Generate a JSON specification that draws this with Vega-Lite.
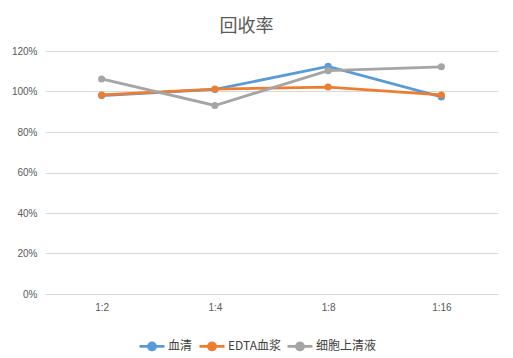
{
  "$schema": "https://vega.github.io/schema/vega-lite/v6.json",
  "width": 453,
  "height": 243,
  "autosize": {"type": "none"},
  "padding": {"left": 45, "top": 51, "right": 15, "bottom": 64},
  "background": "white",
  "title": {"text": "回收率", "fontSize": 18, "font": "Noto Sans CJK SC", "fontWeight": "normal", "color": "#595959", "offset": 10, "dx": -25},
  "data": {"values": [
    {"idx": 1, "dilution": "1:2", "series": "血清", "value": 0.98},
    {"idx": 2, "dilution": "1:4", "series": "血清", "value": 1.01},
    {"idx": 3, "dilution": "1:8", "series": "血清", "value": 1.124},
    {"idx": 4, "dilution": "1:16", "series": "血清", "value": 0.973},
    {"idx": 1, "dilution": "1:2", "series": "EDTA血浆", "value": 0.983},
    {"idx": 2, "dilution": "1:4", "series": "EDTA血浆", "value": 1.012},
    {"idx": 3, "dilution": "1:8", "series": "EDTA血浆", "value": 1.022},
    {"idx": 4, "dilution": "1:16", "series": "EDTA血浆", "value": 0.983},
    {"idx": 1, "dilution": "1:2", "series": "细胞上清液", "value": 1.062},
    {"idx": 2, "dilution": "1:4", "series": "细胞上清液", "value": 0.931},
    {"idx": 3, "dilution": "1:8", "series": "细胞上清液", "value": 1.103},
    {"idx": 4, "dilution": "1:16", "series": "细胞上清液", "value": 1.122}
  ]},
  "mark": {"type": "line", "strokeWidth": 2.8, "point": {"filled": true, "size": 50}},
  "encoding": {
    "x": {"field": "dilution", "type": "ordinal", "sort": ["1:2", "1:4", "1:8", "1:16"],
      "scale": {"type": "point", "padding": 0.5},
      "axis": {"title": null, "labelAngle": 0, "domain": false, "ticks": false, "labelPadding": 8, "labelFont": "Liberation Sans", "labelFontSize": 10, "labelColor": "#595959", "grid": false}},
    "y": {"field": "value", "type": "quantitative",
      "scale": {"domain": [0, 1.2]},
      "axis": {"title": null, "format": ".0%", "values": [0, 0.2, 0.4, 0.6, 0.8, 1.0, 1.2], "domain": false, "ticks": false, "labelPadding": 8, "labelFont": "Liberation Sans", "labelFontSize": 10, "labelColor": "#595959", "gridColor": "#D9D9D9", "gridWidth": 1}},
    "color": {"field": "series", "type": "nominal",
      "scale": {"domain": ["血清", "EDTA血浆", "细胞上清液"], "range": ["#5B9BD5", "#ED7D31", "#A5A5A5"]},
      "legend": {"title": null, "orient": "none", "legendX": 93, "legendY": 281, "direction": "horizontal",
        "labelFont": "Noto Sans CJK SC", "labelFontSize": 12, "labelColor": "#404040",
        "symbolType": "M-1,0L1,0M-0.28,0A0.28,0.28 0 1,0 0.28,0A0.28,0.28 0 1,0 -0.28,0Z",
        "symbolSize": 625, "symbolStrokeWidth": 2.8, "columnPadding": 0, "labelOffset": 2}},
    "order": {"field": "idx", "type": "quantitative"}
  },
  "config": {"view": {"stroke": null}}
}
